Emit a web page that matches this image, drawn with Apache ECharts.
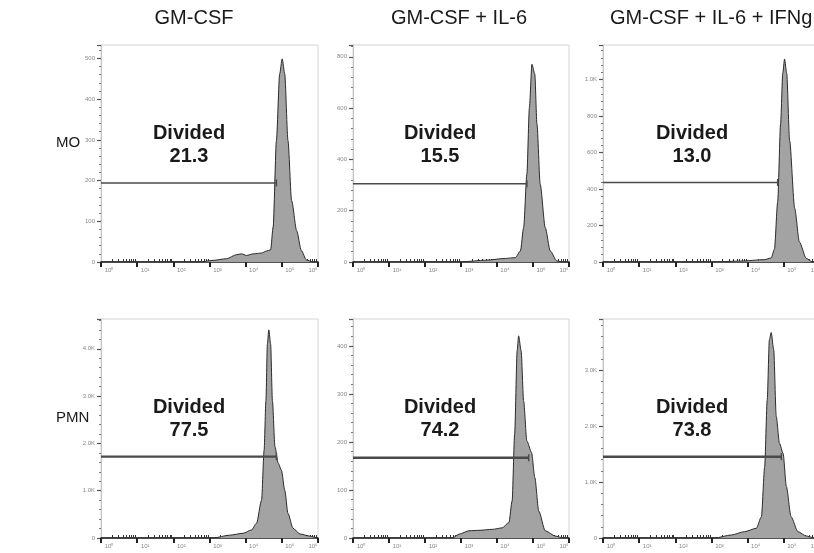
<!DOCTYPE html>
<html><head><meta charset="utf-8">
<script src="https://cdn.jsdelivr.net/npm/echarts@6/dist/echarts.min.js"></script>
<style>html,body{margin:0;padding:0;background:#fff}#c{width:814px;height:553px}</style>
</head><body><div id="c"></div>
<script>
// ---- data (x = log10 fluorescence, y = cell count) ----
const columnTitles = ['GM-CSF', 'GM-CSF + IL-6', 'GM-CSF + IL-6 + IFNg'];
const rowLabels = ['MO', 'PMN'];
const xTickLabels = ['10\u2070', '10\u00b9', '10\u00b2', '10\u00b3', '10\u2074', '10\u2075', '10\u2076'];

const moGmX  = [0, 2.73, 3.10, 3.47, 3.75, 3.89, 4.02, 4.21, 4.44, 4.58, 4.69, 4.76, 4.85, 4.94, 5.01, 5.08, 5.17, 5.27, 5.41, 5.54, 5.68, 5.86, 6];
const moGmY  = [0, 0, 4, 8, 18, 20, 16, 20, 22, 27, 30, 86, 298, 462, 499, 462, 298, 151, 77, 28, 5, 0, 0];

const moIl6X = [0, 2.76, 3.04, 3.69, 4.24, 4.51, 4.65, 4.74, 4.83, 4.90, 4.97, 5.05, 5.11, 5.20, 5.34, 5.48, 5.66, 5.85, 6];
const moIl6Y = [0, 0, 1, 7, 14, 17, 43, 134, 342, 602, 771, 732, 537, 303, 134, 43, 4, 0, 0];

const moIfnX = [0, 2.62, 3.09, 3.82, 4.47, 4.65, 4.74, 4.83, 4.91, 4.97, 5.02, 5.08, 5.16, 5.30, 5.43, 5.62, 5.79, 6];
const moIfnY = [0, 0, 1, 5, 13, 22, 70, 330, 756, 1034, 1113, 1034, 665, 295, 110, 20, 0, 0];

const pmnGmX  = [0, 3.10, 3.56, 3.93, 4.16, 4.30, 4.44, 4.51, 4.56, 4.60, 4.64, 4.69, 4.74, 4.81, 4.90, 4.99, 5.08, 5.17, 5.31, 5.50, 5.77, 5.95, 6];
const pmnGmY  = [0, 0, 60, 100, 170, 310, 800, 1860, 2900, 4100, 4400, 4100, 2900, 1930, 1580, 1430, 1010, 520, 205, 85, 40, 10, 0];

const pmnIl6X = [0, 2.76, 2.95, 3.22, 3.50, 3.87, 4.14, 4.33, 4.42, 4.49, 4.56, 4.60, 4.67, 4.74, 4.83, 4.96, 5.05, 5.16, 5.34, 5.62, 5.85, 6];
const pmnIl6Y = [0, 0, 8, 15, 16, 18, 21, 32, 77, 216, 390, 421, 390, 285, 202, 178, 126, 56, 15, 4, 0, 0];

const pmnIfnX = [0, 3.09, 3.55, 3.91, 4.24, 4.38, 4.47, 4.54, 4.60, 4.65, 4.72, 4.79, 4.88, 4.98, 5.07, 5.20, 5.39, 5.62, 5.79, 6];
const pmnIfnY = [0, 0, 54, 113, 173, 380, 1270, 2460, 3540, 3670, 3360, 2170, 1690, 1510, 920, 380, 113, 36, 10, 0];

const gateLevels = [194, 305, 436, 1720, 167, 1452];
const gateEnds   = [4.85, 4.83, 4.83, 4.85, 4.88, 4.93];
const dividedPct = ['21.3', '15.5', '13.0', '77.5', '74.2', '73.8'];
const yMaxes = [533, 846, 1190, 4630, 456, 3911];
const ySteps = [100, 200, 200, 1000, 100, 1000];

// ---- build ----
const panelsX = [moGmX, moIl6X, moIfnX, pmnGmX, pmnIl6X, pmnIfnX];
const panelsY = [moGmY, moIl6Y, moIfnY, pmnGmY, pmnIl6Y, pmnIfnY];

const gridBoxes = [
  {left: 101, top: 45, width: 217, height: 217},
  {left: 353, top: 45, width: 216, height: 217},
  {left: 603, top: 45, width: 217, height: 217},
  {left: 101, top: 319, width: 217, height: 219},
  {left: 353, top: 319, width: 216, height: 219},
  {left: 603, top: 319, width: 217, height: 219}
];

const minorVals = [];
for (let n = 0; n < 6; n++) for (let k = 2; k <= 9; k++) minorVals.push(n + Math.log10(k));

const grid = [], xAxis = [], yAxis = [], series = [], graphic = [];
const FONT = '"Liberation Sans", Arial, Helvetica, sans-serif';

gridBoxes.forEach((b, i) => {
  grid.push(Object.assign({show: true, borderColor: '#d4d4d4', borderWidth: 1, backgroundColor: 'transparent', containLabel: false, outerBoundsMode: 'none'}, b));
  xAxis.push({
    type: 'value', gridIndex: i, min: 0, max: 6, interval: 1,
    axisLine: {show: true, onZero: false, lineStyle: {color: '#222', width: 1.5}},
    axisTick: {show: true, length: 5, lineStyle: {color: '#222', width: 2}},
    axisLabel: {
      show: true, margin: 5, fontSize: 6, color: '#888', fontFamily: FONT,
      formatter: v => {
        const idx = Math.round(v);
        if (Math.abs(v - idx) > 1e-6) return '';
        return idx === 6 ? '{e|' + xTickLabels[idx] + '}' : '{n|' + xTickLabels[idx] + '}';
      },
      rich: {
        n: {fontSize: 6, color: '#888', padding: [0, 0, 0, 16], fontFamily: FONT},
        e: {fontSize: 6, color: '#888', padding: [0, 10, 0, 0], fontFamily: FONT}
      }
    },
    splitLine: {show: false}
  });
  xAxis.push({
    type: 'value', gridIndex: i, min: 0, max: 6,
    axisLine: {show: false},
    axisTick: {show: true, length: 3, customValues: minorVals, lineStyle: {color: '#333', width: 1}},
    axisLabel: {show: false},
    splitLine: {show: false}
  });
  const step = ySteps[i];
  yAxis.push({
    type: 'value', gridIndex: i, min: 0, max: yMaxes[i], interval: step,
    axisLine: {show: true, lineStyle: {color: '#c4c4c4', width: 1}},
    axisTick: {show: true, length: 4, lineStyle: {color: '#555', width: 1.2}},
    minorTick: {show: true, splitNumber: 5, length: 2, lineStyle: {color: '#777', width: 1}},
    axisLabel: {
      show: true, fontSize: 6, color: '#888', margin: 6, fontFamily: FONT, showMaxLabel: false,
      formatter: v => {
        if (Math.abs(v / step - Math.round(v / step)) > 1e-6) return '';
        return v >= 1000 ? (v / 1000).toFixed(1) + 'K' : String(v);
      }
    },
    splitLine: {show: false}
  });
  series.push({
    type: 'line', xAxisIndex: 2 * i, yAxisIndex: i,
    data: panelsX[i].map((x, j) => [x, panelsY[i][j]]),
    smooth: 0.25, smoothMonotone: 'x', symbol: 'none', silent: true,
    lineStyle: {color: '#2b2b2b', width: 1},
    areaStyle: {color: '#a3a3a3', opacity: 1},
    z: 2
  });
  const gw = i < 3 ? 1.6 : 2.4;
  series.push({
    type: 'line', xAxisIndex: 2 * i, yAxisIndex: i, silent: true,
    data: [
      {value: [0, gateLevels[i]], symbol: 'none'},
      {value: [gateEnds[i], gateLevels[i]], symbol: 'rect', symbolSize: [1.5, 7]}
    ],
    symbol: 'none', showSymbol: true,
    itemStyle: {color: '#4a4a4a'},
    lineStyle: {color: '#4a4a4a', width: gw},
    z: 3
  });
  const cx = [189, 440, 692][i % 3];
  const cy = i < 3 ? 145 : 419;
  graphic.push({
    type: 'text', x: cx, y: cy, z: 10,
    style: {text: 'Divided\n' + dividedPct[i], fontSize: 20, fontWeight: 'bold', fontFamily: FONT, fill: '#1a1a1a', align: 'center', verticalAlign: 'middle', lineHeight: 23}
  });
});

graphic.push({type: 'text', x: 194, y: 18, style: {text: columnTitles[0], fontSize: 20, fontFamily: FONT, fill: '#1a1a1a', align: 'center', verticalAlign: 'middle'}});
graphic.push({type: 'text', x: 459, y: 18, style: {text: columnTitles[1], fontSize: 20, fontFamily: FONT, fill: '#1a1a1a', align: 'center', verticalAlign: 'middle'}});
graphic.push({type: 'text', x: 610, y: 18, style: {text: columnTitles[2], fontSize: 20, fontFamily: FONT, fill: '#1a1a1a', align: 'left', verticalAlign: 'middle'}});
[143, 418].forEach((cy, k) => {
  graphic.push({type: 'text', x: 56, y: cy, style: {text: rowLabels[k], fontSize: 15, fontFamily: FONT, fill: '#1a1a1a', align: 'left', verticalAlign: 'middle'}});
});

const chart = echarts.init(document.getElementById('c'), null, {renderer: 'canvas'});
chart.setOption({animation: false, backgroundColor: '#fff', grid, xAxis, yAxis, series, graphic});
</script>
</body></html>
